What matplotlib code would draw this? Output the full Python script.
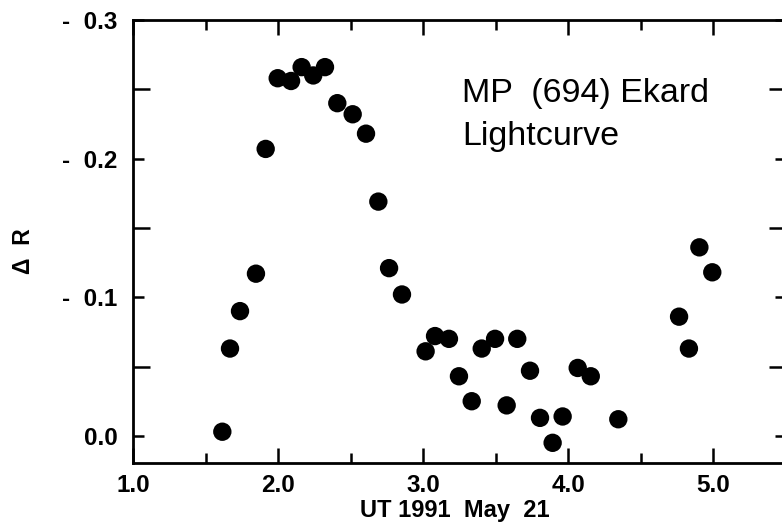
import matplotlib
matplotlib.use("Agg")
import matplotlib.pyplot as plt
from matplotlib.ticker import MultipleLocator, FixedLocator

# Data (UT hours, Delta R magnitude)
ut_hours = [1.616, 1.669, 1.738, 1.848, 1.915, 1.998, 2.090, 2.163, 2.243, 2.324,
            2.409, 2.515, 2.607, 2.692, 2.766, 2.855, 3.018, 3.083, 3.179, 3.248,
            3.336, 3.405, 3.497, 3.577, 3.650, 3.738, 3.807, 3.894, 3.963, 4.067,
            4.157, 4.347, 4.766, 4.834, 4.906, 4.995]
delta_r = [-0.003, -0.063, -0.090, -0.117, -0.207, -0.258, -0.256, -0.266, -0.260, -0.266,
           -0.240, -0.232, -0.218, -0.169, -0.121, -0.102, -0.061, -0.072, -0.070, -0.043,
           -0.025, -0.063, -0.070, -0.022, -0.070, -0.047, -0.013, 0.005, -0.014, -0.049,
           -0.043, -0.012, -0.086, -0.063, -0.136, -0.118]

x_ticks = [1.0, 2.0, 3.0, 4.0, 5.0]
x_tick_labels = ["1.0", "2.0", "3.0", "4.0", "5.0"]
y_ticks = [0.0, -0.1, -0.2, -0.3]
y_tick_labels = ["0.0", "-  0.1", "-  0.2", "-  0.3"]

plt.rcParams['font.family'] = ['Liberation Sans', 'DejaVu Sans']

fig = plt.figure(figsize=(7.82, 5.29), dpi=100)
ax = fig.add_axes([133/782, 1 - 462.5/529, 652.5/782, 442.5/529])

ax.scatter(ut_hours, delta_r, s=175, color='black', edgecolors='none', zorder=3, clip_on=False)

ax.set_xlim(1.0, 5.5)
ax.set_ylim(0.0192, -0.3)

ax.xaxis.set_major_locator(FixedLocator(x_ticks))
ax.set_xticklabels(x_tick_labels)
ax.xaxis.set_minor_locator(MultipleLocator(0.5))
ax.yaxis.set_major_locator(FixedLocator(y_ticks))
ax.set_yticklabels(y_tick_labels)
ax.yaxis.set_minor_locator(MultipleLocator(0.05))

for sp in ax.spines.values():
    sp.set_linewidth(2.0)

ax.tick_params(axis='x', which='major', direction='in', length=11, width=1.8,
               top=True, bottom=True, labelsize=17.5, pad=8)
ax.tick_params(axis='x', which='minor', direction='in', length=7.5, width=1.8,
               top=True, bottom=True)
ax.tick_params(axis='y', which='major', direction='in', length=8, width=1.8,
               left=True, right=True, labelsize=17.5, pad=11)
ax.tick_params(axis='y', which='minor', direction='in', length=12.5, width=1.8,
               left=True, right=True)
for lab in ax.get_xticklabels() + ax.get_yticklabels():
    lab.set_fontweight('bold')

fig.text(455/782, 1 - 517/529, "UT 1991  May  21", ha='center', va='baseline',
         fontsize=17, fontweight='bold')
fig.text(23/782, 1 - 251/529, "Δ  R", ha='center', va='center', rotation=90,
         fontsize=16.5, fontweight='bold')
fig.text(462/782, 1 - 102/529, "MP  (694) Ekard", ha='left', va='baseline', fontsize=24.5)
fig.text(462/782, 1 - 145/529, "Lightcurve", ha='left', va='baseline', fontsize=24.5)

fig.savefig("out.png", dpi=100)
